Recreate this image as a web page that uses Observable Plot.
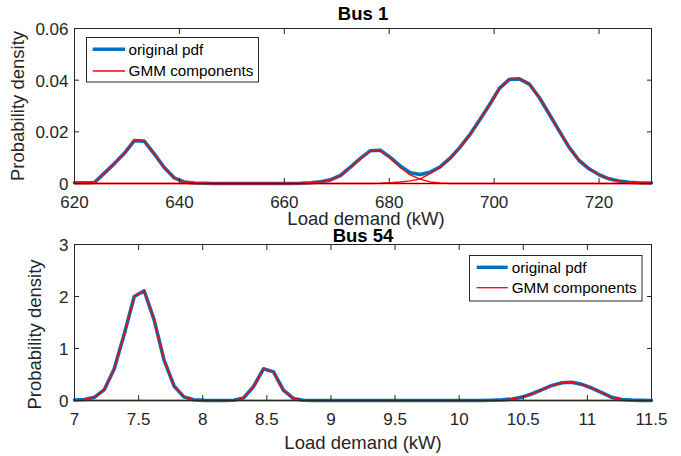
<!DOCTYPE html>
<html>
<head>
<meta charset="utf-8">
<script src="https://cdn.jsdelivr.net/npm/d3@7"></script>
<script src="https://cdn.jsdelivr.net/npm/@observablehq/plot@0.6"></script>
<style>
  html, body { margin: 0; padding: 0; background: #ffffff; }
  #wrap { position: relative; width: 681px; height: 456px; overflow: hidden; font-family: 'Liberation Sans', Arial, Helvetica, sans-serif; }
  #wrap svg { display: block; }
</style>
</head>
<body>
<div id="wrap"></div>
<script>
// ---------- Bus 1 data ----------
const bus1X = [620.0, 621.9, 623.8, 625.7, 627.6, 629.5, 631.4, 633.3, 635.2, 637.1, 639.0, 640.9, 642.8, 644.7, 646.6, 661.2, 663.1, 665.0, 666.9, 668.8, 670.7, 672.6, 674.5, 676.4, 678.3, 680.2, 682.1, 684.0, 685.9, 687.8, 689.7, 691.6, 693.4, 695.3, 697.2, 699.1, 701.0, 702.9, 704.8, 706.7, 708.6, 710.5, 712.4, 714.3, 716.2, 718.1, 720.0, 721.9, 723.8, 725.7, 727.6, 730.0];
const bus1Pdf = [0.0003, 0.0003, 0.0004, 0.0040, 0.0077, 0.0117, 0.0166, 0.0164, 0.0115, 0.0062, 0.0022, 0.0006, 0.0002, 0.0001, 0.0000, 0.0000, 0.0001, 0.0003, 0.0007, 0.0014, 0.0031, 0.0063, 0.0097, 0.0127, 0.0129, 0.0101, 0.0068, 0.0042, 0.0035, 0.0044, 0.0064, 0.0098, 0.0138, 0.0187, 0.0245, 0.0304, 0.0368, 0.0403, 0.0405, 0.0385, 0.0333, 0.0269, 0.0204, 0.0140, 0.0089, 0.0057, 0.0034, 0.0018, 0.0010, 0.0005, 0.0003, 0.0002];
const bus1Comp1 = [0.0003, 0.0003, 0.0004, 0.0040, 0.0077, 0.0117, 0.0166, 0.0164, 0.0115, 0.0062, 0.0022, 0.0006, 0.0002, 0.0001, 0.0000, 0, 0, 0, 0, 0, 0, 0, 0, 0, 0, 0, 0, 0, 0, 0, 0, 0, 0, 0, 0, 0, 0, 0, 0, 0, 0, 0, 0, 0, 0, 0, 0, 0, 0, 0, 0, 0];
const bus1Comp2 = [0, 0, 0, 0, 0, 0, 0, 0, 0, 0, 0, 0, 0, 0, 0, 0, 0.0001, 0.0003, 0.0007, 0.0014, 0.0031, 0.0062, 0.0096, 0.0125, 0.0127, 0.0098, 0.0062, 0.0033, 0.0017, 0.0006, 0.0002, 0.0000, 0, 0, 0, 0, 0, 0, 0, 0, 0, 0, 0, 0, 0, 0, 0, 0, 0, 0, 0, 0];
const bus1Comp3 = [0, 0, 0, 0, 0, 0, 0, 0, 0, 0, 0, 0, 0, 0, 0, 0, 0, 0, 0, 0, 0, 0, 0, 0, 0.0001, 0.0003, 0.0006, 0.0010, 0.0018, 0.0038, 0.0062, 0.0097, 0.0138, 0.0187, 0.0245, 0.0304, 0.0368, 0.0403, 0.0405, 0.0385, 0.0333, 0.0269, 0.0204, 0.0140, 0.0089, 0.0057, 0.0034, 0.0018, 0.0010, 0.0005, 0.0003, 0.0002];
const bus1XTicks = [620, 640, 660, 680, 700, 720];
const bus1YTicks = [0, 0.02, 0.04, 0.06];

// ---------- Bus 54 data ----------
const bus54X = [7.000, 7.078, 7.155, 7.233, 7.310, 7.388, 7.466, 7.543, 7.621, 7.698, 7.776, 7.853, 7.931, 8.009, 8.086, 8.164, 8.241, 8.319, 8.397, 8.474, 8.552, 8.629, 8.707, 8.784, 8.862, 10.181, 10.259, 10.336, 10.414, 10.491, 10.569, 10.647, 10.724, 10.802, 10.879, 10.957, 11.034, 11.112, 11.190, 11.267, 11.345, 11.422, 11.500];
const bus54Pdf = [0.01, 0.02, 0.06, 0.21, 0.61, 1.28, 2.00, 2.11, 1.55, 0.78, 0.28, 0.07, 0.015, 0.003, 0.001, 0.001, 0.005, 0.05, 0.27, 0.61, 0.55, 0.20, 0.04, 0.005, 0.0, 0.0, 0.005, 0.012, 0.03, 0.065, 0.13, 0.21, 0.29, 0.34, 0.35, 0.31, 0.24, 0.15, 0.06, 0.02, 0.008, 0.003, 0.001];
const bus54Comp1 = [0.01, 0.02, 0.06, 0.21, 0.61, 1.28, 2.00, 2.11, 1.55, 0.78, 0.28, 0.07, 0.015, 0.003, 0.001, 0.000, 0, 0, 0, 0, 0, 0, 0, 0, 0, 0, 0, 0, 0, 0, 0, 0, 0, 0, 0, 0, 0, 0, 0, 0, 0, 0, 0];
const bus54Comp2 = [0, 0, 0, 0, 0, 0, 0, 0, 0, 0, 0, 0, 0, 0, 0, 0, 0.005, 0.05, 0.27, 0.61, 0.55, 0.20, 0.04, 0.005, 0.0, 0, 0, 0, 0, 0, 0, 0, 0, 0, 0, 0, 0, 0, 0, 0, 0, 0, 0];
const bus54Comp3 = [0, 0, 0, 0, 0, 0, 0, 0, 0, 0, 0, 0, 0, 0, 0, 0, 0, 0, 0, 0, 0, 0, 0, 0, 0, 0, 0.005, 0.012, 0.03, 0.065, 0.13, 0.21, 0.29, 0.34, 0.35, 0.31, 0.24, 0.15, 0.06, 0.02, 0.008, 0.003, 0.001];
const bus54XTicks = [7, 7.5, 8, 8.5, 9, 9.5, 10, 10.5, 11, 11.5];
const bus54YTicks = [0, 1, 2, 3];

// ---------- Text ----------
const titles = ["Bus 1", "Bus 54"];
const xLabel = "Load demand (kW)";
const yLabel = "Probability density";
const legendLabels = ["original pdf", "GMM components"];

const BLUE = "#0072BD";
const RED = "#FF0000";
const AXIS = "#262626";
const FONT = "'Liberation Sans', Arial, Helvetica, sans-serif";

function rowsOf(xs, pdf, comps) {
  return xs.map((x, i) => ({x, pdf: pdf[i], c: comps.map(c => c[i])}));
}

function panel(cfg) {
  const rows = rowsOf(cfg.xs, cfg.pdf, cfg.comps);
  const compMarks = cfg.comps.map((_, k) =>
    Plot.line(rows, {x: "x", y: d => d.c[k], stroke: RED, strokeWidth: 1.4})
  );
  return Plot.plot({
    width: 681,
    height: 228,
    marginTop: cfg.marginTop,
    marginBottom: cfg.marginBottom,
    marginLeft: 74,
    marginRight: 30,
    x: {domain: cfg.xDomain},
    y: {domain: cfg.yDomain},
    style: {fontFamily: FONT, fontSize: "17px", color: AXIS, background: "transparent", overflow: "visible"},
    marks: [
      Plot.line(rows, {x: "x", y: "pdf", stroke: BLUE, strokeWidth: 3.6}),
      ...compMarks,
      Plot.frame({stroke: AXIS, strokeWidth: 1}),
      Plot.axisX(cfg.xTicks, {anchor: "bottom", tickSize: -5, fill: "none", stroke: AXIS, label: null}),
      Plot.axisX(cfg.xTicks, {anchor: "top", tickSize: -5, fill: "none", stroke: AXIS, label: null}),
      Plot.axisY(cfg.yTicks, {anchor: "left", tickSize: -5, fill: "none", stroke: AXIS, label: null}),
      Plot.axisY(cfg.yTicks, {anchor: "right", tickSize: -5, fill: "none", stroke: AXIS, label: null}),
      Plot.axisX(cfg.xTicks, {anchor: "bottom", tickSize: 0, tickPadding: 12, tickFormat: d => String(d), label: null, fontSize: 17, fill: AXIS}),
      Plot.axisY(cfg.yTicks, {anchor: "left", tickSize: 0, tickPadding: 6, tickFormat: d => String(d), label: null, fontSize: 17, fill: AXIS, dy: 1}),
      Plot.text([xLabel], {text: d => d, frameAnchor: "bottom", textAnchor: "middle", lineAnchor: "bottom", dy: cfg.xLabelDy, dx: cfg.xLabelDx, fontSize: 18.5, fill: AXIS}),
      Plot.text([yLabel], {text: d => d, frameAnchor: "left", textAnchor: "middle", rotate: -90, lineAnchor: "middle", dx: cfg.yLabelDx, dy: cfg.yLabelDy, fontSize: 18.5, fill: AXIS}),
      Plot.text([cfg.title], {text: d => d, frameAnchor: "top", textAnchor: "middle", lineAnchor: "bottom", dy: cfg.titleDy, fontSize: 18.5, fontWeight: "bold", fill: "#000"})
    ]
  });
}

const wrap = document.getElementById("wrap");

wrap.appendChild(panel({
  xs: bus1X, pdf: bus1Pdf, comps: [bus1Comp1, bus1Comp2, bus1Comp3],
  xDomain: [620, 730], yDomain: [0, 0.06],
  xTicks: bus1XTicks, yTicks: bus1YTicks,
  marginTop: 28, marginBottom: 45,
  xLabelDy: 41, xLabelDx: 3, yLabelDx: -56.5, yLabelDy: 0, titleDy: -9,
  title: titles[0]
}));

wrap.appendChild(panel({
  xs: bus54X, pdf: bus54Pdf, comps: [bus54Comp1, bus54Comp2, bus54Comp3],
  xDomain: [7, 11.5], yDomain: [0, 3],
  xTicks: bus54XTicks, yTicks: bus54YTicks,
  marginTop: 16, marginBottom: 56,
  xLabelDy: 48, xLabelDx: 0, yLabelDx: -39.5, yLabelDy: 12, titleDy: -2.5,
  title: titles[1]
}));

// ---------- Legends (MATLAB-style boxes) ----------
const overlay = d3.select(wrap).append("svg")
  .attr("width", 681).attr("height", 456)
  .style("position", "absolute").style("left", "0px").style("top", "0px")
  .style("pointer-events", "none");

function legend(box) {
  const g = overlay.append("g");
  g.append("rect").attr("x", box.x).attr("y", box.y).attr("width", box.w).attr("height", box.h)
    .attr("fill", "#fff").attr("stroke", AXIS).attr("stroke-width", 1);
  const styles = [{stroke: BLUE, width: 3.4}, {stroke: RED, width: 1.3}];
  legendLabels.forEach((lab, i) => {
    const y = box.rowY[i];
    g.append("line").attr("x1", box.lx1).attr("x2", box.lx2).attr("y1", y).attr("y2", y)
      .attr("stroke", styles[i].stroke).attr("stroke-width", styles[i].width);
    g.append("text").attr("x", box.tx).attr("y", y + 5.4).text(lab)
      .attr("font-family", FONT).attr("font-size", 15.3).attr("fill", "#000");
  });
}

legend({x: 86.5, y: 37.5, w: 172, h: 44.5, rowY: [49.3, 71], lx1: 92.7, lx2: 125, tx: 128.5});
legend({x: 469.5, y: 255.5, w: 172.5, h: 45.5, rowY: [267.3, 287.7], lx1: 476.7, lx2: 507.7, tx: 511.7});
</script>
</body>
</html>
